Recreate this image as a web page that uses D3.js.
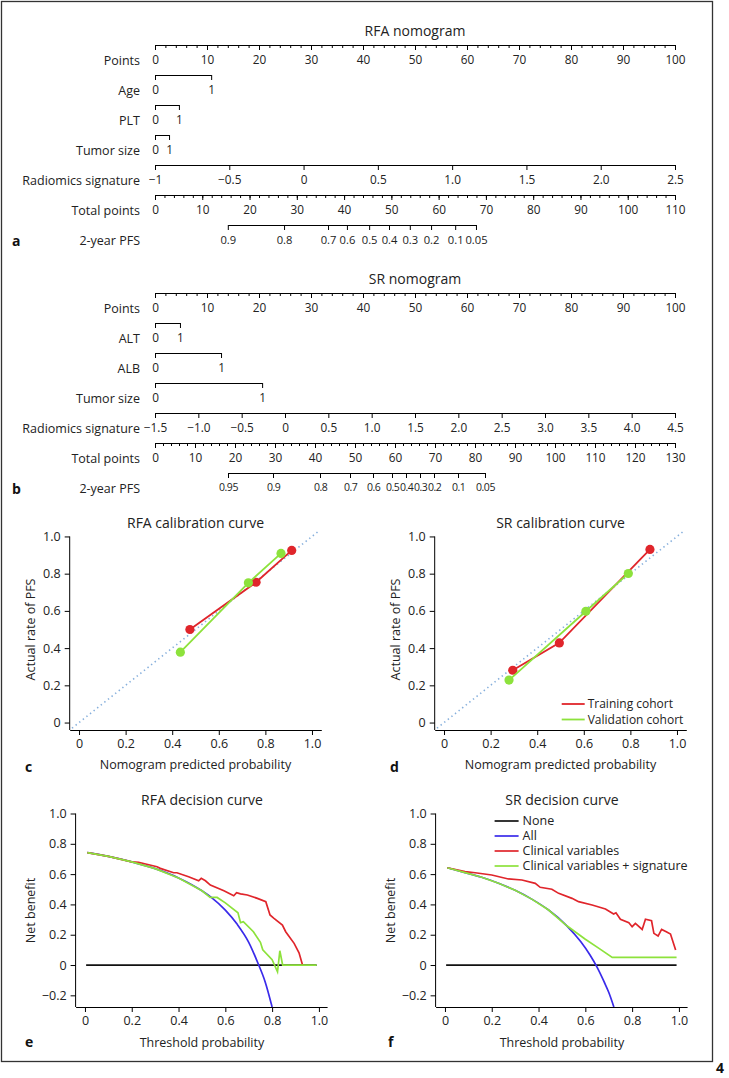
<!DOCTYPE html>
<html>
<head>
<meta charset="utf-8">
<script src="https://cdn.jsdelivr.net/npm/d3@7"></script>
<style>
body { margin: 0; background: #fff; }
svg text { font-family: "Open Sans", sans-serif; font-size: 12.5px; fill: #222; }
</style>
</head>
<body>
<svg id="fig" width="729" height="1078"></svg>
<script>
// ---- nomogram data ----
const pointLabels = [0, 10, 20, 30, 40, 50, 60, 70, 80, 90, 100];

const rfaVars = ['Age', 'PLT', 'Tumor size'];
const rfaVarPoints = [[0, 10.8], [0, 4.6], [0, 2.7]];
const rfaVarLevels = [['0', '1'], ['0', '1'], ['0', '1']];
const rfaSignatureTicks = [-1, -0.5, 0, 0.5, 1, 1.5, 2, 2.5];
const rfaSignatureLabels = ['−1', '−0.5', '0', '0.5', '1.0', '1.5', '2.0', '2.5'];
const rfaTotalTicks = [0, 10, 20, 30, 40, 50, 60, 70, 80, 90, 100, 110];
const rfaPfsLabels = ['0.9', '0.8', '0.7', '0.6', '0.5', '0.4', '0.3', '0.2', '0.1', '0.05'];
const rfaPfsTotalPoints = [15.4, 27.3, 36.6, 40.6, 45.3, 49.5, 53.9, 58.4, 63.5, 67.9];

const srVars = ['ALT', 'ALB', 'Tumor size'];
const srVarPoints = [[0, 4.8], [0, 12.7], [0, 20.6]];
const srVarLevels = [['0', '1'], ['0', '1'], ['0', '1']];
const srSignatureTicks = [-1.5, -1, -0.5, 0, 0.5, 1, 1.5, 2, 2.5, 3, 3.5, 4, 4.5];
const srSignatureLabels = ['−1.5', '−1.0', '−0.5', '0', '0.5', '1.0', '1.5', '2.0', '2.5', '3.0', '3.5', '4.0', '4.5'];
const srTotalTicks = [0, 10, 20, 30, 40, 50, 60, 70, 80, 90, 100, 110, 120, 130];
const srPfsLabels = ['0.95', '0.9', '0.8', '0.7', '0.6', '0.5', '0.4', '0.3', '0.2', '0.1', '0.05'];
const srPfsTotalPoints = [18.25, 29.5, 41.25, 48.75, 54.5, 59.25, 62.75, 66.25, 69.75, 75.75, 82.5];

// ---- calibration data ----
const calTicks = [0, 0.2, 0.4, 0.6, 0.8, 1];
const calTickLabels = ['0', '0.2', '0.4', '0.6', '0.8', '1.0'];
const refLine = [-0.03, 1.03];
const rfaTrainX = [0.476, 0.76, 0.913];
const rfaTrainY = [0.50, 0.754, 0.925];
const rfaValidX = [0.435, 0.727, 0.867];
const rfaValidY = [0.378, 0.751, 0.909];
const srTrainX = [0.295, 0.495, 0.884];
const srTrainY = [0.281, 0.428, 0.930];
const srValidX = [0.279, 0.609, 0.791];
const srValidY = [0.228, 0.598, 0.801];

// ---- decision curve data ----
const dcYTicks = [-0.2, 0, 0.2, 0.4, 0.6, 0.8, 1];
const dcYLabels = ['−0.2', '0', '0.2', '0.4', '0.6', '0.8', '1.0'];
const noneX = [0.005, 0.99];
const noneY = [0, 0];

const rfaAllX = [0.01, 0.1, 0.2, 0.3, 0.4, 0.5, 0.54, 0.6, 0.65, 0.7, 0.74, 0.77, 0.8];
const rfaAllY = [0.742, 0.717, 0.681, 0.636, 0.575, 0.49, 0.446, 0.362, 0.27, 0.15, 0.01, -0.11, -0.277];
const rfaClinX = [0.01, 0.1, 0.2, 0.229, 0.308, 0.322, 0.379, 0.393, 0.443, 0.486, 0.497, 0.515, 0.536, 0.594, 0.636, 0.648, 0.665, 0.694, 0.737, 0.773, 0.791, 0.808, 0.844, 0.858, 0.894, 0.915, 0.93];
const rfaClinY = [0.742, 0.717, 0.681, 0.678, 0.649, 0.638, 0.609, 0.609, 0.583, 0.556, 0.572, 0.556, 0.528, 0.49, 0.457, 0.477, 0.47, 0.462, 0.44, 0.418, 0.33, 0.308, 0.264, 0.22, 0.143, 0.081, 0];
const rfaSigX = [0.01, 0.1, 0.2, 0.3, 0.4, 0.5, 0.535, 0.565, 0.6, 0.654, 0.665, 0.677, 0.72, 0.75, 0.76, 0.8, 0.823, 0.833, 0.845, 0.99];
const rfaSigY = [0.742, 0.717, 0.681, 0.636, 0.575, 0.49, 0.446, 0.446, 0.41, 0.345, 0.28, 0.286, 0.22, 0.15, 0.1, 0.035, -0.045, 0.094, 0, 0];

const srAllX = [0.01, 0.086, 0.157, 0.229, 0.3, 0.371, 0.443, 0.521, 0.58, 0.62, 0.65, 0.68, 0.7, 0.722];
const srAllY = [0.642, 0.61, 0.579, 0.54, 0.493, 0.435, 0.363, 0.259, 0.155, 0.066, -0.014, -0.11, -0.18, -0.277];
const srClinX = [0.01, 0.086, 0.129, 0.2, 0.271, 0.329, 0.386, 0.407, 0.457, 0.486, 0.543, 0.571, 0.629, 0.686, 0.721, 0.731, 0.75, 0.786, 0.8, 0.814, 0.843, 0.857, 0.883, 0.893, 0.911, 0.926, 0.946, 0.964, 0.986];
const srClinY = [0.642, 0.616, 0.609, 0.594, 0.568, 0.561, 0.539, 0.513, 0.5, 0.473, 0.44, 0.418, 0.396, 0.37, 0.337, 0.345, 0.302, 0.279, 0.253, 0.275, 0.235, 0.302, 0.292, 0.209, 0.191, 0.235, 0.22, 0.205, 0.099];
const srSigX = [0.01, 0.086, 0.157, 0.229, 0.3, 0.371, 0.443, 0.521, 0.6, 0.66, 0.715, 0.99];
const srSigY = [0.642, 0.61, 0.579, 0.54, 0.493, 0.435, 0.363, 0.259, 0.17, 0.108, 0.05, 0.05];

const RED = '#e0252b', GREEN = '#8de23c', BLUE = '#3a2bea', DOT = '#86afdc';

const svg = d3.select('#fig');

// figure frame
svg.append('rect')
    .attr('x', 1.5).attr('y', 1.5)
    .attr('width', 711).attr('height', 1060)
    .attr('fill', 'none').attr('stroke', '#333').attr('stroke-width', 1.3);
svg.append('text').attr('x', 716).attr('y', 1073)
    .style('font-weight', 700).style('font-size', '14px').style('fill', '#111').text('4');

function panelLetter(x, y, t) {
    svg.append('text').attr('x', x).attr('y', y)
        .style('font-weight', 700).style('font-size', '14px').style('fill', '#111').text(t);
}

function nomogram(o) {
    const g = svg.append('g');
    const px = d3.scaleLinear().domain([0, 100]).range([155, 675]);
    const rowY = i => o.top + i * 30;

    g.append('text').attr('x', 415).attr('y', o.top - 9)
        .attr('text-anchor', 'middle').style('font-size', '14px').text(o.title);

    const rowLabel = (i, txt) => g.append('text')
        .attr('x', 140).attr('y', rowY(i) + 20).attr('text-anchor', 'end').text(txt);

    // size: font size of the tick labels, tight: squeeze letters
    const axisRow = (i, scale, major, labels, minor, size, tight) => {
        const ag = g.append('g').attr('transform', `translate(0,${rowY(i)})`);
        if (minor) {
            ag.append('g').call(d3.axisBottom(scale).tickValues(minor)
                .tickSize(3).tickSizeOuter(0).tickFormat(''));
        }
        const mg = ag.append('g').call(d3.axisBottom(scale).tickValues(major)
            .tickSize(5).tickSizeOuter(0).tickPadding(6)
            .tickFormat((d, k) => labels[k]));
        mg.selectAll('text').style('font-size', (size || 11.8) + 'px')
            .style('letter-spacing', tight ? '-0.5px' : null);
    };

    // Points
    rowLabel(0, 'Points');
    axisRow(0, px, pointLabels, pointLabels.map(String), d3.range(0, 101, 2));

    // categorical variables
    o.vars.forEach((name, k) => {
        const pts = o.varPoints[k];
        const s = d3.scaleLinear().domain(d3.extent(pts)).range(d3.extent(pts).map(px));
        rowLabel(k + 1, name);
        axisRow(k + 1, s, pts, o.varLevels[k]);
    });

    // radiomics signature
    const r = o.vars.length + 1;
    const sigExt = d3.extent(o.sigTicks);
    const sigScale = d3.scaleLinear().domain(sigExt).range([px(0), px(100)]);
    rowLabel(r, 'Radiomics signature');
    axisRow(r, sigScale, o.sigTicks, o.sigLabels);

    // total points
    const totExt = d3.extent(o.totalTicks);
    const tot = d3.scaleLinear().domain(totExt).range([155, 675]);
    rowLabel(r + 1, 'Total points');
    axisRow(r + 1, tot, o.totalTicks, o.totalTicks.map(String), d3.range(0, totExt[1] + 1, 2));

    // 2-year PFS
    const pfsExt = d3.extent(o.pfsPoints);
    const pfs = d3.scaleLinear().domain(pfsExt).range(pfsExt.map(tot));
    rowLabel(r + 2, '2-year PFS');
    axisRow(r + 2, pfs, o.pfsPoints, o.pfsLabels, null, o.survSize, o.survTight);

    panelLetter(12, rowY(r + 2) + 21, o.letter);
}

nomogram({
    top: 45, title: 'RFA nomogram', letter: 'a', survSize: 11.2,
    vars: rfaVars, varPoints: rfaVarPoints, varLevels: rfaVarLevels,
    sigTicks: rfaSignatureTicks, sigLabels: rfaSignatureLabels,
    totalTicks: rfaTotalTicks, pfsPoints: rfaPfsTotalPoints, pfsLabels: rfaPfsLabels
});
nomogram({
    top: 293, title: 'SR nomogram', letter: 'b', survSize: 10.5, survTight: true,
    vars: srVars, varPoints: srVarPoints, varLevels: srVarLevels,
    sigTicks: srSignatureTicks, sigLabels: srSignatureLabels,
    totalTicks: srTotalTicks, pfsPoints: srPfsTotalPoints, pfsLabels: srPfsLabels
});

function calibration(o) {
    const g = svg.append('g');
    const x = d3.scaleLinear().domain([-0.04, 1.04]).range([o.left, o.left + 251.6]);
    const y = d3.scaleLinear().domain([-0.04, 1.04]).range([730, 529]);

    g.append('text').attr('x', x(0.5)).attr('y', 528)
        .attr('text-anchor', 'middle').style('font-size', '14px').text(o.title);

    g.append('g').attr('transform', 'translate(0,730)')
        .call(d3.axisBottom(x).tickValues(calTicks).tickSize(5).tickSizeOuter(0).tickPadding(4)
            .tickFormat((d, k) => calTickLabels[k]));
    const ya = g.append('g').attr('transform', `translate(${x(-0.04)},0)`)
        .call(d3.axisLeft(y).tickValues(calTicks).tickSize(5).tickSizeOuter(0).tickPadding(4)
            .tickFormat((d, k) => calTickLabels[k]));
    ya.select('.domain').attr('d', `M0,${y(-0.04)}V${y(1)}`);

    g.append('text').attr('x', x(0.5)).attr('y', 769)
        .attr('text-anchor', 'middle').text('Nomogram predicted probability');
    g.append('text').attr('transform', `translate(${o.left - 39},${y(0.5)}) rotate(-90)`)
        .attr('text-anchor', 'middle').attr('dy', '0.35em').text('Actual rate of PFS');

    g.append('path').datum(refLine)
        .attr('d', d3.line().x(d => x(d)).y(d => y(d)))
        .attr('fill', 'none').attr('stroke', DOT).attr('stroke-width', 1.6)
        .attr('stroke-dasharray', '1.4 3.2');

    const series = [
        { xs: o.trainX, ys: o.trainY, color: RED },
        { xs: o.validX, ys: o.validY, color: GREEN }
    ];
    series.forEach(s => {
        const pts = s.xs.map((v, i) => [v, s.ys[i]]);
        g.append('path').datum(pts)
            .attr('d', d3.line().x(d => x(d[0])).y(d => y(d[1])))
            .attr('fill', 'none').attr('stroke', s.color).attr('stroke-width', 1.8);
        g.selectAll(null).data(pts).enter().append('circle')
            .attr('cx', d => x(d[0])).attr('cy', d => y(d[1])).attr('r', 4.6)
            .attr('fill', s.color);
    });

    if (o.legend) {
        const lg = g.append('g');
        [['Training cohort', RED], ['Validation cohort', GREEN]].forEach((it, i) => {
            const yy = 704 + i * 15.5;
            lg.append('line').attr('x1', o.left + 127).attr('x2', o.left + 150)
                .attr('y1', yy).attr('y2', yy).attr('stroke', it[1]).attr('stroke-width', 1.8);
            lg.append('text').attr('x', o.left + 153).attr('y', yy).attr('dy', '0.35em')
                .style('font-size', '12px').text(it[0]);
        });
    }
    panelLetter(o.letterX, 772, o.letter);
}

calibration({ left: 69.7, title: 'RFA calibration curve', letter: 'c', letterX: 25,
    trainX: rfaTrainX, trainY: rfaTrainY, validX: rfaValidX, validY: rfaValidY });
calibration({ left: 434.7, title: 'SR calibration curve', letter: 'd', letterX: 390, legend: true,
    trainX: srTrainX, trainY: srTrainY, validX: srValidX, validY: srValidY });

function decision(o) {
    const g = svg.append('g');
    const x = d3.scaleLinear().domain([-0.04, 1.035]).range([o.left, o.left + 251.5]);
    const y = d3.scaleLinear().domain([-0.277, 1]).range([1007, 813.5]);

    g.append('text').attr('x', x(0.5)).attr('y', 805)
        .attr('text-anchor', 'middle').style('font-size', '14px').text(o.title);

    g.append('g').attr('transform', 'translate(0,1007)')
        .call(d3.axisBottom(x).tickValues(calTicks).tickSize(5).tickSizeOuter(0).tickPadding(4)
            .tickFormat((d, k) => calTickLabels[k]));
    const ya = g.append('g').attr('transform', `translate(${x(-0.04)},0)`)
        .call(d3.axisLeft(y).tickValues(dcYTicks).tickSize(5).tickSizeOuter(0).tickPadding(4)
            .tickFormat((d, k) => dcYLabels[k]));
    ya.select('.domain').attr('d', `M0,${y(-0.277)}V${y(1)}`);

    g.append('text').attr('x', x(0.5)).attr('y', 1047)
        .attr('text-anchor', 'middle').text('Threshold probability');
    g.append('text').attr('transform', `translate(${o.left - 45},${y(0.36)}) rotate(-90)`)
        .attr('text-anchor', 'middle').attr('dy', '0.35em').text('Net benefit');

    const clipId = 'clip-' + o.letter;
    g.append('clipPath').attr('id', clipId).append('rect')
        .attr('x', x(-0.04)).attr('y', y(1.05))
        .attr('width', 251.5).attr('height', y(-0.277) - y(1.05));

    const line = d3.line().x(d => x(d[0])).y(d => y(d[1]));
    const curves = [
        { name: 'None', xs: noneX, ys: noneY, color: '#111' },
        { name: 'All', xs: o.allX, ys: o.allY, color: BLUE, smooth: true },
        { name: 'Clinical variables', xs: o.clinX, ys: o.clinY, color: RED },
        { name: 'Clinical variables + signature', xs: o.sigX, ys: o.sigY, color: GREEN }
    ];
    curves.forEach(c => {
        const pts = c.xs.map((v, i) => [v, c.ys[i]]);
        g.append('path').datum(pts)
            .attr('clip-path', `url(#${clipId})`)
            .attr('d', (c.smooth ? line.curve(d3.curveMonotoneX) : line.curve(d3.curveLinear))(pts))
            .attr('fill', 'none').attr('stroke', c.color).attr('stroke-width', 1.7);
    });

    if (o.legend) {
        curves.forEach((c, i) => {
            const yy = 821 + i * 15;
            g.append('line').attr('x1', o.left + 59).attr('x2', o.left + 83)
                .attr('y1', yy).attr('y2', yy).attr('stroke', c.color).attr('stroke-width', 1.7);
            g.append('text').attr('x', o.left + 87).attr('y', yy).attr('dy', '0.35em').text(c.name);
        });
    }
    panelLetter(o.letterX, 1047, o.letter);
}

decision({ left: 75.6, title: 'RFA decision curve', letter: 'e', letterX: 25,
    allX: rfaAllX, allY: rfaAllY, clinX: rfaClinX, clinY: rfaClinY, sigX: rfaSigX, sigY: rfaSigY });
decision({ left: 435.6, title: 'SR decision curve', letter: 'f', letterX: 388, legend: true,
    allX: srAllX, allY: srAllY, clinX: srClinX, clinY: srClinY, sigX: srSigX, sigY: srSigY });
</script>
</body>
</html>
